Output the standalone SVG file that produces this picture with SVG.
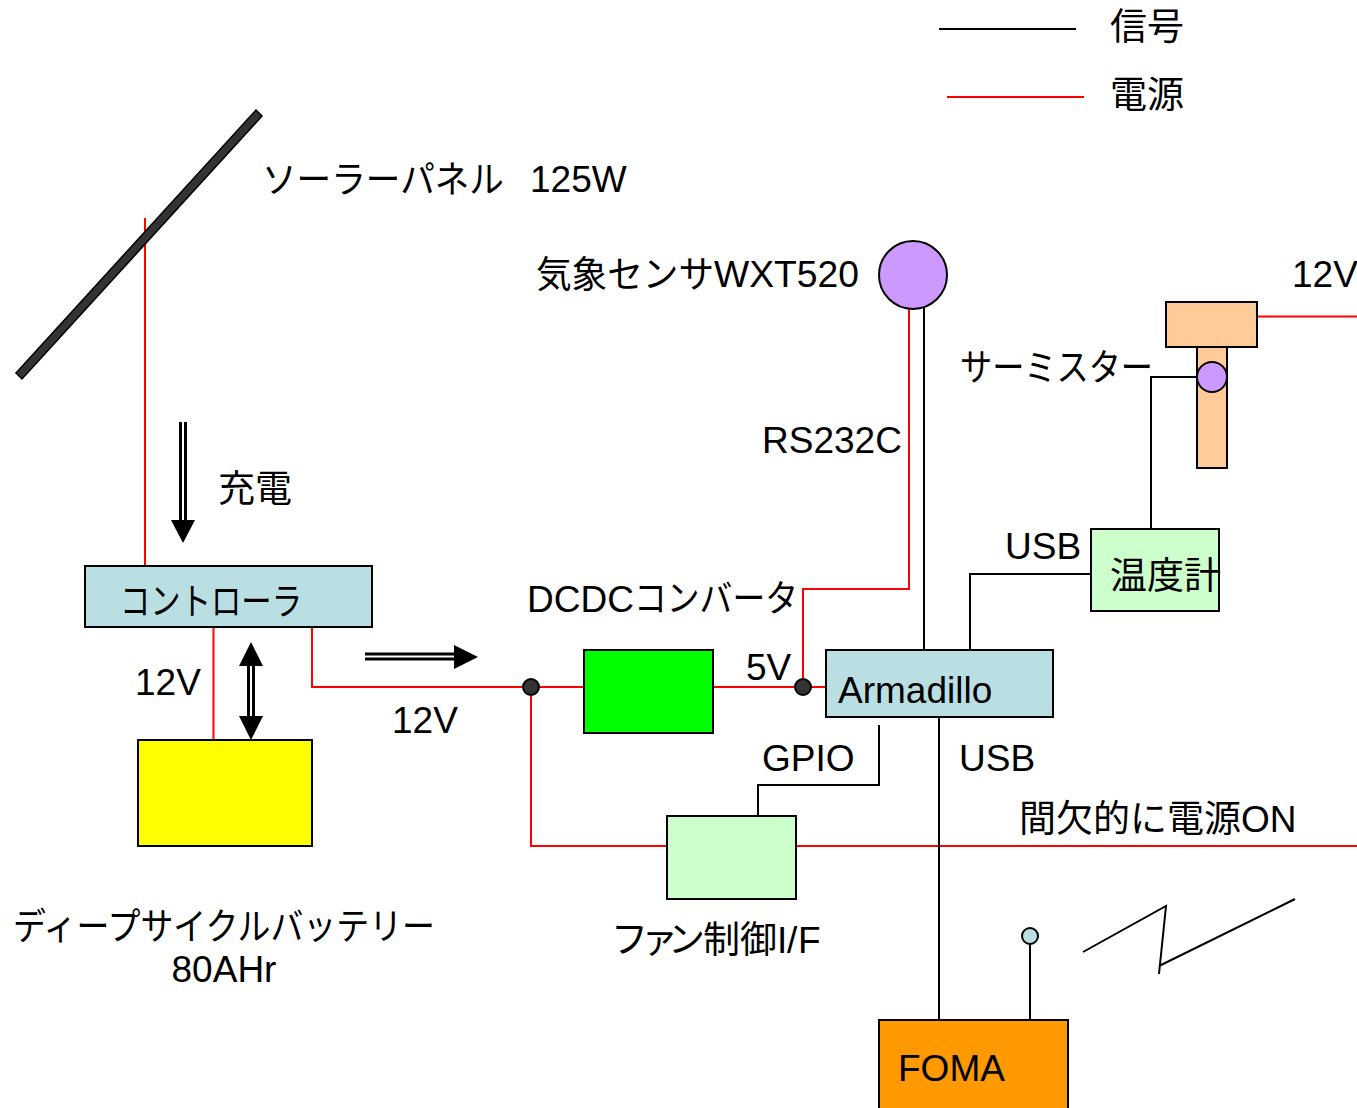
<svg xmlns="http://www.w3.org/2000/svg" width="1357" height="1108" viewBox="0 0 1357 1108">
<style>
text{font-family:"Liberation Sans","Noto Sans CJK JP",sans-serif;font-size:37px;fill:#000}
.m{text-anchor:middle}
.b{stroke:#000;stroke-width:2}
.w{fill:none;stroke:#000;stroke-width:2}
.t{fill:none;stroke:#000;stroke-width:3}
.r{fill:none;stroke:#f00;stroke-width:2}
.a{fill:#000;stroke:none}
</style>
<rect width="1357" height="1108" fill="#fff"/>
<g id="connectors">
<path class="w" d="M939 29H1076"/>
<path class="r" d="M947 97H1084"/>
<path class="r" d="M145 218V566"/>
<path class="r" d="M213.500 627V740"/>
<path class="r" d="M312 627V687H584"/>
<path class="r" d="M713 687H826"/>
<path class="r" d="M803 687V589H909V308"/>
<path class="w" d="M924 306V650"/>
<path class="w" d="M970 650V574H1091"/>
<path class="w" d="M1151 529V377H1197"/>
<path class="r" d="M1257 316.500H1357"/>
<path class="r" d="M531 687V846H667"/>
<path class="r" d="M796 846H1357"/>
<path class="w" d="M879 725V785H758V816"/>
<path class="w" d="M939 717V1020"/>
<path class="w" d="M1030 944V1020"/>
<path class="w" d="M1083 952L1166 906L1159 974M1159 966L1295 899"/>
<path class="t" d="M180.500 422V522M185.500 422V522"/>
<path class="a" d="M171 520H195L183 543Z"/>
<path class="t" d="M248.500 664V718M253.500 664V718"/>
<path class="a" d="M251 642L263 666H239ZM251 740L239 716H263Z"/>
<path class="t" d="M365 654H456M365 659H456"/>
<path class="a" d="M454 645L478 657L454 669Z"/>
</g>
<g id="panel"><path d="M256 110L262 116L22 379L16 373Z" fill="#333" stroke="#000" stroke-width="1.500"/><text x="262" y="193" textLength="242" lengthAdjust="spacingAndGlyphs">ソーラーパネル</text><text x="530" y="192">125W</text></g>
<g id="legend"><text x="1110" y="40">信号</text><text x="1110" y="108">電源</text></g>
<g id="charge-label"><text x="218" y="502">充電</text></g>
<g id="controller"><rect x="85" y="566" width="287" height="61" fill="#b9dfe2" class="b"/><text x="120" y="615" textLength="182" lengthAdjust="spacingAndGlyphs">コントローラ</text></g>
<g id="battery"><rect x="138" y="740" width="174" height="106" fill="#ff0" class="b"/><text x="13" y="940" textLength="422" lengthAdjust="spacingAndGlyphs">ディープサイクルバッテリー</text><text x="224" y="982" class="m">80AHr</text></g>
<g id="labels"><text x="135" y="695">12V</text><text x="392" y="733">12V</text><text x="746" y="680">5V</text><text x="762" y="453">RS232C</text><text x="1292" y="287">12V</text><text x="1005" y="559">USB</text><text x="959" y="771">USB</text><text x="762" y="771">GPIO</text><text x="1019" y="832">間欠的に電源ON</text></g>
<g id="dcdc"><rect x="584" y="650" width="129" height="83" fill="#0f0" class="b"/><text x="527" y="612">DCDC<tspan x="634" textLength="164" lengthAdjust="spacingAndGlyphs">コンバータ</tspan></text></g>
<g id="junction-1"><circle cx="531" cy="687" r="8" fill="#333" class="b"/></g>
<g id="junction-2"><circle cx="803" cy="687" r="8" fill="#333" class="b"/></g>
<g id="armadillo"><rect x="826" y="650" width="227" height="67" fill="#b9dfe2" class="b"/><text x="838" y="703">Armadillo</text></g>
<g id="sensor"><circle cx="913" cy="275" r="34" fill="#c9f" class="b"/><text x="536" y="288" textLength="178" lengthAdjust="spacingAndGlyphs">気象センサ</text><text x="714" y="287" textLength="145" lengthAdjust="spacingAndGlyphs">WXT520</text></g>
<g id="thermistor"><rect x="1197" y="347" width="30" height="121" fill="#fc9" class="b"/><rect x="1166" y="302" width="91" height="45" fill="#fc9" class="b"/><circle cx="1212" cy="377" r="15" fill="#c9f" class="b"/><text x="960" y="381" textLength="193" lengthAdjust="spacingAndGlyphs">サーミスター</text></g>
<g id="thermometer"><rect x="1091" y="529" width="128" height="82" fill="#cfc" class="b"/><text x="1110" y="589">温度計</text></g>
<g id="fan"><rect x="667" y="816" width="129" height="83" fill="#cfc" class="b"/><text x="611 641 668 703 740 777 787 798" y="952.500">ファン制御I/F</text></g>
<g id="antenna"><circle cx="1030" cy="936" r="8" fill="#b9dfe2" class="b"/></g>
<g id="foma"><rect x="879" y="1020" width="189" height="90" fill="#f90" class="b"/><text x="898" y="1081">FOMA</text></g>
</svg>
